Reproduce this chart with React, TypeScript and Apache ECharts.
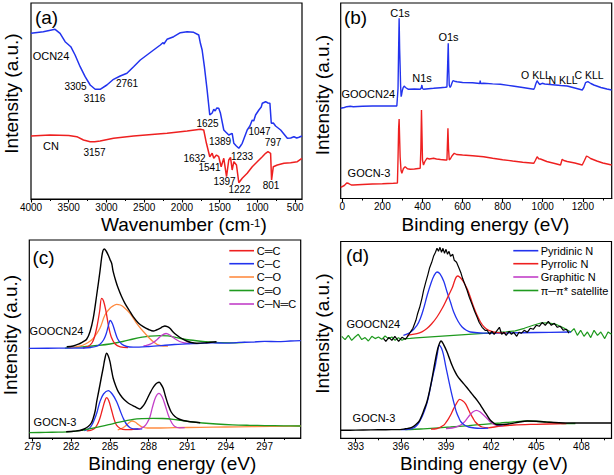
import React, { useEffect, useRef } from "react";
import * as echarts from "echarts";

type P = [number, number][];

// ---------- (a) FTIR ----------
const ftirOCN24: P = [[4000,165.7],[3837,167.3],[3681,169.7],[3615,165.7],[3548,157.3],[3473,152.3],[3416,144],[3349,132.3],[3283,122.3],[3216,114],[3150,109.7],[3084,109.7],[2995,114],[2907,119.7],[2818,123],[2729,125.7],[2641,132.3],[2552,139],[2464,144],[2376,149],[2287,154],[2250,156.5],[2240,155],[2198,159.7],[2110,162.3],[2021,166.3],[1932,167.3],[1845,166.7],[1778,164],[1756,155.7],[1733,149],[1703,132.3],[1667,109],[1632,84],[1600,86],[1579,89.7],[1560,88],[1540,91],[1513,90.7],[1490,85.7],[1446,69],[1420,67],[1380,64],[1335,65.7],[1313,55.7],[1280,53],[1247,50.7],[1225,53],[1202,55.7],[1136,69],[1100,73],[1069,79],[1050,78],[1025,84],[981,89],[950,92],[936,95.7],[892,97.3],[860,96],[835,95.7],[817,75.7],[790,76],[760,73],[693,69],[650,65],[604,60.7],[560,61],[517,62.3],[480,61],[450,61.7],[411,63]];
const ftirCN: P = [[4000,63],[3748,64],[3500,63.5],[3393,62.3],[3305,59],[3216,57.3],[3157,57.3],[3084,58],[2907,60.7],[2641,63],[2400,64.5],[2198,65.7],[1932,68],[1756,69.7],[1712,69],[1676,55.7],[1632,42.3],[1600,45.7],[1579,40.7],[1543,44],[1513,42.3],[1481,32.3],[1446,40.7],[1410,22.3],[1380,39],[1357,41.7],[1335,29],[1313,37.3],[1278,34],[1247,16.3],[1202,20.7],[1136,25.7],[1069,32.3],[1003,37.3],[936,42.3],[892,45.7],[861,47.3],[826,45.7],[813,19],[790,32.3],[737,34],[649,35.7],[561,36.3],[472,37.3],[411,40.7]];

// ---------- (b) XPS survey ----------
const surveyGOOCN24: P = [[-8,90.2],[10,91],[22,91.8],[40,92.3],[55,91.8],[100,92.3],[150,92.5],[205,92.5],[250,92.5],[272,92.5],[278,110],[281,150],[283.5,180.2],[286,150],[288.5,131.8],[291,112],[293.5,101.8],[296,104],[300,108.5],[304,111],[308.5,112.5],[315,111],[330,109.2],[360,109.5],[388.5,109.2],[394,110.5],[397,113.5],[400,110],[405,109.2],[430,109.8],[455,110.2],[490,110.8],[513.5,111.2],[522,111.5],[525,130],[528.5,155.2],[531,130],[533.5,113.5],[538,111],[542,112.5],[547,115.5],[552,117.8],[560,117.3],[572,116.8],[600,116],[650,115.8],[686,115],[688,118],[690,115],[705,115.2],[750,114.6],[788.5,114.2],[850,112.5],[900,111],[955,109.2],[960,111],[963.5,113.5],[968,116],[972,117.8],[977,116],[985,114],[997,115.2],[1010,114.5],[1050,113.8],[1090,113],[1122,112.5],[1160,110.5],[1197,108.5],[1205,111],[1213.5,115.8],[1225,116.8],[1240,115],[1255,113.5],[1290,111],[1320,109.5],[1344,108.5]];
const surveyGOCN3: P = [[-8,11.2],[10,13],[22,15.5],[30,15.2],[45,13.5],[55,13.5],[100,14],[150,14.5],[200,14.8],[255,15.2],[275,15.5],[278,40],[281,70],[283.5,79.5],[286,60],[288.5,41.8],[293,28],[297,25.2],[305,30],[313.5,31.8],[325,29.7],[338.5,29.2],[360,29.5],[388.5,30.2],[392,50],[395,88.5],[398,60],[400,38.5],[405,33.5],[412,37],[422,40.2],[435,39.5],[455,40.2],[470,39.5],[490,39],[513.5,38.5],[522,38.5],[524.5,55],[527,70.2],[530,50],[533.5,38.5],[540,40],[547,42.5],[558.5,45.2],[570,44],[600,43.5],[650,42.8],[705,41.8],[750,40.2],[800,38.8],[850,37.5],[900,36.3],[955,35.2],[963,38],[972,41.8],[980,39.8],[988.5,39.5],[1020,37],[1060,35],[1088.5,33.5],[1093,36.5],[1097,39.2],[1105,38],[1122,37],[1160,35.5],[1197,33.5],[1208,38],[1218.5,42.5],[1228,41.5],[1238.5,40],[1270,37.5],[1300,35.5],[1344,33.5]];

// ---------- (c) C1s, GOOCN24 (upper) ----------
const c1sTopEnvelope: P = [[281.64,91.3],[282.15,92],[282.67,94.5],[282.93,96.3],[283.2,99],[283.45,106.3],[283.7,119.7],[283.97,143],[284.22,166.3],[284.35,180],[284.45,187],[284.55,189],[284.7,187],[284.86,183],[285.0,178.5],[285.13,174.7],[285.25,166.3],[285.45,157],[285.64,149.7],[285.9,141.5],[286.16,134.7],[286.5,127.5],[286.8,121.3],[287.2,115],[287.58,111.3],[288.0,108.5],[288.36,107],[288.6,108],[288.88,109.7],[289.1,111.3],[289.26,112],[289.45,111.3],[289.65,109.7],[289.9,106],[290.17,103],[290.5,100],[290.95,97],[291.3,95.5],[291.72,94.7],[292.5,95.3],[293.27,96.3]];
const c1sTopCdC: P = [[282.9,90],[283.3,91.5],[283.6,95],[283.8,101],[284.0,112],[284.2,127],[284.35,139.7],[284.5,137],[284.7,126],[284.9,111],[285.1,101],[285.4,94],[285.8,91.2],[286.4,90.3]];
const c1sTopCC: P = [[278.74,89.7],[281,89.8],[283,90],[283.5,90.5],[283.9,91.5],[284.2,93.5],[284.5,98],[284.7,104],[284.85,111],[285.02,117.5],[285.2,114],[285.4,106],[285.6,99],[285.9,94],[286.3,91.5],[286.8,90.8],[288,91.5],[290,93.5],[292,94.7],[293,95.2],[294,94.8],[295,95.6],[296,95.9],[297,96.6],[298,96.4],[299,97],[299.8,97.3]];
const c1sTopCO: P = [[281.8,90],[282.15,90.6],[282.6,91.8],[282.93,93],[283.3,95.5],[283.7,99.7],[284.22,109.7],[284.61,123],[285.0,129.7],[285.3,132.5],[285.52,133.7],[285.8,133],[286.03,131.3],[286.55,124.7],[287.07,114.7],[287.71,104.7],[288.36,96.3],[288.88,92.5],[289.5,91.8]];
const c1sTopCdO: P = [[281.5,89.8],[282.41,90.8],[282.93,91.3],[284,92.5],[285.0,94],[286,96.5],[286.8,99],[287.5,100.8],[288.1,101.8],[288.88,102.3],[289.5,102.1],[289.9,101.2],[290.5,99.5],[291.2,98],[292.5,96.3],[293.5,95.3],[294.56,95.2],[295.5,95.6]];
const c1sTopCNC: P = [[287.6,92],[287.9,92.8],[288.3,95],[288.7,99],[289.0,102.5],[289.35,104.5],[289.7,102.5],[290.0,99.5],[290.4,96.5],[290.8,95],[291.2,94.5]];

// ---------- (c) C1s, GOCN-3 (lower) ----------
const c1sBotEnvelope: P = [[281.6,6.3],[282.2,6.8],[282.67,7.5],[283.0,9],[283.31,11.5],[283.55,15],[283.7,19.7],[283.85,27],[283.97,36.3],[284.1,45],[284.22,53],[284.35,62],[284.48,70.5],[284.6,79],[284.74,84.7],[284.87,82],[285.0,76.3],[285.12,68],[285.25,59.7],[285.45,52],[285.64,46.3],[285.95,40.5],[286.29,36.3],[286.6,33.5],[286.94,31.3],[287.15,29.8],[287.32,29],[287.5,31],[287.71,34.7],[287.9,39.5],[288.1,44.7],[288.3,49.5],[288.49,53],[288.65,55],[288.82,55.7],[288.97,53.5],[289.13,49.7],[289.3,42],[289.52,33],[289.75,26],[290.04,21.5],[290.35,19],[290.68,17.5],[291.0,16.8],[291.46,16],[292,15.2]];
const c1sBotCdC: P = [[283.2,7.2],[283.5,7.7],[283.8,9.5],[284.0,13],[284.2,19],[284.4,28],[284.6,37],[284.74,40.3],[284.9,37.5],[285.1,29],[285.3,19.5],[285.5,13],[285.8,9.5],[286.2,8.3],[286.8,8.6],[287.3,9]];
const c1sBotCC: P = [[283.0,7.3],[283.31,9],[283.55,12],[283.83,19.7],[284.0,26],[284.22,36.3],[284.5,44],[284.87,47.3],[285.2,43.5],[285.52,36.3],[285.8,27],[286.03,19.7],[286.3,13.5],[286.6,10],[287.0,9],[287.5,9.2]];
const c1sBotCO: P = [[285.6,8.2],[285.9,9.5],[286.2,12],[286.45,15],[286.7,17],[286.95,16],[287.2,13.5],[287.5,11],[287.9,10],[288.5,10],[290,10.3],[292,10.7],[294,11],[296,11.4],[299.8,12]];
const c1sBotCdO: P = [[278.74,5.3],[280,5.6],[281,5.9],[282,6.3],[282.93,8],[283.6,9.6],[284.22,11.3],[284.9,13.3],[285.52,15.3],[286.2,17.2],[286.8,18.7],[287.5,19.4],[288.36,19.7],[289.1,19.5],[289.9,18.7],[290.5,17.6],[291.2,16.3],[292.2,15],[293.27,14],[294.5,13.2],[295.86,12.7],[297,12.4],[298.5,12.2],[299.8,12]];
const c1sBotCNC: P = [[287.2,9.2],[287.45,10],[287.7,12],[287.9,15.5],[288.1,21],[288.3,31],[288.55,41],[288.8,44.7],[289.05,41],[289.3,32],[289.55,22],[289.8,15],[290.04,11.5],[290.4,10.2],[290.8,10.3]];

// ---------- (d) N1s, GOOCN24 (upper) ----------
const n1sTopEnvelope: P = [[394.84,100],[395.0,97],[395.2,101],[395.4,98],[395.6,102],[395.85,97],[396.07,101],[396.3,99],[396.5,103],[396.62,106],[396.8,110],[397.0,118],[397.1,124],[397.25,131],[397.4,140],[397.51,148],[397.65,156],[397.8,164],[397.9,170],[398.05,176],[398.17,182],[398.3,186],[398.4,190],[398.5,187],[398.6,191],[398.7,186],[398.8,190],[398.9,185],[399.0,189],[399.1,184],[399.2,187],[399.3,182],[399.45,184],[399.55,178],[399.7,176],[399.84,171],[400.0,165],[400.1,160],[400.25,154],[400.4,148],[400.55,141],[400.73,134],[400.9,127],[401.07,121],[401.2,116],[401.4,111],[401.6,108],[401.73,108],[401.9,104],[402.05,107],[402.2,104],[402.4,108],[402.55,111],[402.7,104],[402.85,106],[403.0,103],[403.2,107],[403.35,104],[403.5,106],[403.7,102],[403.85,106],[404.0,105],[404.2,108],[404.4,106],[404.6,110],[404.8,109],[405.0,113],[405.2,112],[405.4,116],[405.6,113],[405.8,117],[406.0,113],[406.2,115],[406.4,111],[406.6,112],[406.8,108],[407.0,109],[407.17,105]];
const n1sTopPyridinic: P = [[396.17,103],[396.62,105.7],[397.07,113],[397.3,120],[397.51,129.7],[397.75,143],[398.0,155],[398.2,162.5],[398.4,166.3],[398.6,164.5],[398.85,157],[399.07,146.3],[399.3,136],[399.51,126.3],[399.8,117],[400.07,111.3],[400.35,108],[400.62,106.3],[401.5,105.2],[403,105.3],[405,105.8],[407.3,106.3]];
const n1sTopPyrrolic: P = [[396.4,103],[397.07,104.7],[397.4,106.5],[397.73,109.7],[398.05,114.5],[398.4,121.3],[398.75,130],[399.07,139.7],[399.4,150],[399.77,162.3],[400.1,158],[400.4,149.7],[400.62,141],[400.84,131.3],[401.05,123.5],[401.29,116.3],[401.55,111],[401.84,108],[402.4,105.7],[403,105.5]];
const n1sTopSatellite: P = [[392.07,102],[392.29,98.7],[392.51,103],[392.73,98],[392.95,101.3],[393.17,104],[393.4,98.7],[393.62,100.7],[393.84,97.3],[394.07,102],[394.29,99.7],[394.51,101.3],[394.73,99],[394.95,102.3],[395.17,99.7],[395.4,101.3],[395.62,98],[395.84,100.7],[396.07,98],[396.29,99.7],[396.62,100],[397,100.5],[398,101.5],[399,102.5],[400,103.5],[401,104.5],[402,105.5],[403,106.5],[403.6,107.5],[404.2,110],[404.8,113],[405.3,115.3],[405.8,115.5],[406.3,114],[406.8,110.5],[407.29,106.3],[407.51,109.7],[407.73,103],[407.95,108],[408.17,102],[408.4,106.3],[408.62,100.7],[408.84,108],[409.07,103],[409.29,106.3],[409.55,99.7],[409.77,106.3],[410,104]];

// ---------- (d) N1s, GOCN-3 (lower) ----------
const n1sBotEnvelope: P = [[392,8],[393,8.2],[394,8.4],[395,8.6],[395.95,8.7],[396.3,9.5],[396.62,10.3],[396.85,12],[397.07,14.7],[397.25,18],[397.4,23],[397.55,29],[397.73,36.3],[397.9,47],[398.07,59.7],[398.25,75],[398.4,86.3],[398.52,93],[398.67,97.3],[398.85,93.5],[399.07,86.3],[399.25,79],[399.4,73],[399.55,68],[399.73,63],[399.95,58.5],[400.17,54.7],[400.4,50.5],[400.62,46.3],[400.85,42],[401.07,38],[401.3,33],[401.51,28],[401.73,23],[401.95,18],[402.2,15],[402.4,13.5],[402.8,13.8],[403.3,14.7],[403.8,16],[404.4,17.3],[405,17],[405.7,16.2],[406.5,15.5],[407.5,15.3],[408.5,15.3],[410,15.3]];
const n1sBotPyridinic: P = [[396,8.6],[396.51,8.9],[396.84,10.3],[397.1,13.5],[397.29,18],[397.45,23],[397.62,29.7],[397.8,39],[397.95,49.7],[398.12,62],[398.29,73],[398.42,84],[398.55,93],[398.7,90],[398.84,83],[398.97,73],[399.11,63],[399.25,53],[399.4,43],[399.55,34],[399.69,26.3],[399.85,20.5],[400,16.3],[400.25,13],[400.51,11.3],[400.9,10.3],[401.29,10],[401.8,10.2]];
const n1sBotPyrrolic: P = [[398,9.2],[398.4,9.7],[398.84,13],[399.0,16],[399.17,19.7],[399.35,24.5],[399.51,29.7],[399.7,35],[399.91,39],[400.1,37.5],[400.29,34.7],[400.45,30],[400.62,24.7],[400.8,20],[400.95,16.3],[401.15,13.5],[401.4,11.3],[401.8,10.5],[402.5,12],[403.5,13.3],[405,14],[407,14.7]];
const n1sBotGraphitic: P = [[399.0,9.7],[399.4,10.3],[399.7,11.5],[399.95,13],[400.2,16],[400.4,19.7],[400.6,23.5],[400.8,26.5],[401.02,28],[401.25,26.5],[401.51,23],[401.75,19.5],[401.95,16.3],[402.2,14],[402.4,13],[402.8,12.8]];
const n1sBotSatellite: P = [[396.3,8.6],[396.62,8.7],[397.5,9.5],[398.5,10.5],[399.29,11.3],[400.5,12.7],[401.51,14],[402.62,15.3],[403.5,16.5],[404.4,17.3],[405.3,16.8],[406.2,15.5],[407.07,14.7],[407.6,14.8]];

// ---------- tick labels ----------
const ftirTicks = [4000, 3500, 3000, 2500, 2000, 1500, 1000, 500];
const ftirMinor = [3750, 3250, 2750, 2250, 1750, 1250, 750];
const surveyTicks = [0, 200, 400, 600, 800, 1000, 1200];
const surveyMinor = [100, 300, 500, 700, 900, 1100, 1300];
const c1sTicks = [279, 282, 285, 288, 291, 294, 297];
const c1sMinor = [280.5, 283.5, 286.5, 289.5, 292.5, 295.5, 298.5];
const n1sTicks = [393, 396, 399, 402, 405, 408];
const n1sMinor = [394.5, 397.5, 400.5, 403.5, 406.5, 409.5];

const c1sLegend = ["C═C", "C─C", "C─O", "C═O", "C─N═C"];
const n1sLegend = ["Pyridinic N", "Pyrrolic N", "Graphitic N", "π─π* satellite"];

const FONT = "'Liberation Sans', Arial, 'DejaVu Sans', sans-serif";
const BLUE = "#2233ee";
const RED = "#ee2020";
const ORANGE = "#ff8c42";
const GREEN = "#1f9a1f";
const PURPLE = "#c23fc8";
const BLACK = "#000000";

const grids = [
  { left: 31, top: 3, width: 271, height: 196 },
  { left: 340.7, top: 3, width: 271, height: 195.5 },
  { left: 29.3, top: 240, width: 271.4, height: 198 },
  { left: 340.7, top: 241.5, width: 270.8, height: 196.8 },
];
const ranges = [
  { min: 410, max: 4000, inverse: true, ticks: ftirTicks, minor: ftirMinor, ymax: 196 },
  { min: -8, max: 1344, inverse: false, ticks: surveyTicks, minor: surveyMinor, ymax: 195.5 },
  { min: 278.74, max: 299.8, inverse: false, ticks: c1sTicks, minor: c1sMinor, ymax: 198 },
  { min: 392, max: 410, inverse: false, ticks: n1sTicks, minor: n1sMinor, ymax: 196.8 },
];

function ln(data: P, color: string, g: number, width = 1.3, smooth: number | boolean = false) {
  return {
    type: "line", data, xAxisIndex: g, yAxisIndex: g, symbol: "none", showSymbol: false,
    smooth, lineStyle: { color, width }, silent: true,
  };
}

function txt(text: string, x: number, y: number, size = 11, align = "center", extra: any = {}) {
  const { style: extraStyle, ...rest } = extra;
  return {
    type: "text", x, y, silent: true, z: 100, ...rest,
    style: { text, fill: "#000", fontSize: size, fontFamily: FONT, align, verticalAlign: "middle", ...(extraStyle || {}) },
  };
}

function legendItems(names: string[], colors: string[], x1: number, x2: number, tx: number, ys: number[]) {
  const out: any[] = [];
  names.forEach((n, i) => {
    out.push({ type: "line", silent: true, z: 100, shape: { x1, y1: ys[i], x2, y2: ys[i] }, style: { stroke: colors[i], lineWidth: 1.6 } });
    out.push(txt(n, tx, ys[i], 11, "left", { style: { lineHeight: 12 } }));
  });
  return out;
}

export default function App() {
  const ref = useRef<HTMLDivElement>(null);
  useEffect(() => {
    if (!ref.current) return;
    const chart = echarts.init(ref.current, undefined, { renderer: "svg" });

    const gridOpts: any[] = [];
    const xAxes: any[] = [];
    const yAxes: any[] = [];
    grids.forEach((g) => gridOpts.push({ ...g, show: true, borderColor: "#000", borderWidth: 1.2, backgroundColor: "transparent", containLabel: false }));
    grids.forEach((g) => gridOpts.push({ ...g, show: false, containLabel: false }));
    ranges.forEach((r, i) => {
      xAxes.push({
        type: "value", gridIndex: i, min: r.min, max: r.max, inverse: r.inverse, position: "bottom",
        axisLine: { show: true, onZero: false, lineStyle: { color: "#000", width: 1.2 } },
        axisTick: { show: true, length: 3.5, customValues: r.ticks, lineStyle: { color: "#000", width: 1.1 } },
        axisLabel: {
          show: true, customValues: r.ticks, margin: 3, fontSize: 10, lineHeight: 10, color: "#000", fontFamily: FONT,
          formatter: (v: number) => String(v),
        },
        splitLine: { show: false },
      });
      yAxes.push({ type: "value", gridIndex: i, min: 0, max: r.ymax, show: false });
    });
    ranges.forEach((r, i) => {
      xAxes.push({
        type: "value", gridIndex: i + 4, min: r.min, max: r.max, inverse: r.inverse, position: "bottom",
        axisLine: { show: false },
        axisTick: { show: true, length: 2, customValues: r.minor, lineStyle: { color: "#000", width: 1 } },
        axisLabel: { show: false },
        splitLine: { show: false },
      });
      yAxes.push({ type: "value", gridIndex: i + 4, min: 0, max: r.ymax, show: false });
    });

    const sm = 0.35;
    const series: any[] = [
      ln(ftirOCN24, BLUE, 0, 1.5),
      ln(ftirCN, RED, 0, 1.5),
      ln(surveyGOOCN24, BLUE, 1, 1.4),
      ln(surveyGOCN3, RED, 1, 1.4),
      // (c) upper
      ln(c1sTopCdO, GREEN, 2, 1.3, sm),
      ln(c1sTopCO, ORANGE, 2, 1.3, sm),
      ln(c1sTopCNC, PURPLE, 2, 1.3, sm),
      ln(c1sTopCdC, RED, 2, 1.3, sm),
      ln(c1sTopCC, BLUE, 2, 1.3, sm),
      ln(c1sTopEnvelope, BLACK, 2, 1.4, sm),
      // (c) lower
      ln(c1sBotCO, ORANGE, 2, 1.3, sm),
      ln(c1sBotCdC, RED, 2, 1.3, sm),
      ln(c1sBotCC, BLUE, 2, 1.3, sm),
      ln(c1sBotCNC, PURPLE, 2, 1.3, sm),
      ln(c1sBotCdO, GREEN, 2, 1.3, sm),
      ln(c1sBotEnvelope, BLACK, 2, 1.4, sm),
      // (d) upper
      ln(n1sTopSatellite, GREEN, 3, 1.2, false),
      ln(n1sTopPyridinic, BLUE, 3, 1.3, sm),
      ln(n1sTopPyrrolic, RED, 3, 1.3, sm),
      ln(n1sTopEnvelope, BLACK, 3, 1.2, false),
      // (d) lower
      ln(n1sBotSatellite, GREEN, 3, 1.3, sm),
      ln(n1sBotPyrrolic, RED, 3, 1.3, sm),
      ln(n1sBotGraphitic, PURPLE, 3, 1.3, sm),
      ln(n1sBotPyridinic, BLUE, 3, 1.3, sm),
      ln(n1sBotEnvelope, BLACK, 3, 1.4, sm),
    ];

    const rot = { rotation: Math.PI / 2, style: { lineHeight: 16 } };
    const xt = { style: { lineHeight: 15 } };
    const graphic: any[] = [
      // panel letters
      txt("(a)", 46.5, 17, 19), txt("(b)", 355.5, 17.5, 19), txt("(c)", 43.5, 257, 19), txt("(d)", 357.5, 255.5, 19),
      // y titles
      txt("Intensity (a.u.)", 11, 93.5, 19, "center", rot),
      txt("Intensity (a.u.)", 322.5, 95, 19, "center", rot),
      txt("Intensity (a.u.)", 10.5, 335, 19, "center", rot),
      txt("Intensity (a.u.)", 322.5, 333.5, 19, "center", rot),
      // x titles
      {
        type: "text", x: 101, y: 224, silent: true, z: 100,
        style: {
          text: "Wavenumber (cm{sup|-1})", fill: "#000", fontSize: 19, lineHeight: 15, fontFamily: FONT, align: "left", verticalAlign: "middle",
          rich: { sup: { fontSize: 11.5, lineHeight: 15, fontFamily: FONT, fill: "#000", verticalAlign: "top", padding: [0, 0, 6, 0] } },
        },
      },
      txt("Binding energy (eV)", 401.5, 224, 19, "left", xt),
      txt("Binding energy (eV)", 88.3, 463, 19, "left", xt),
      txt("Binding energy (eV)", 400, 463, 19, "left", xt),
      // (a) annotations
      txt("OCN24", 51, 55.5, 11), txt("CN", 51, 146, 11),
      txt("3305", 75.5, 86, 10), txt("3116", 94.5, 98, 10), txt("2761", 127, 83, 10),
      txt("1625", 207.5, 123, 10), txt("1389", 220, 141, 10), txt("1047", 259.5, 131.5, 10),
      txt("797", 273, 142, 10), txt("1233", 242, 156, 10),
      txt("3157", 94.5, 152.5, 10), txt("1632", 194.5, 158, 10), txt("1541", 209.5, 167, 10),
      txt("1397", 224.5, 181, 10), txt("1222", 239.5, 189, 10), txt("801", 271, 185, 10),
      // (b) annotations
      txt("C1s", 400, 12.5, 11), txt("O1s", 448.5, 37, 11), txt("N1s", 422, 78, 11),
      txt("GOOCN24", 368.3, 93.5, 11), txt("GOCN-3", 369, 173, 11),
      txt("O KLL", 536, 75, 10.5), txt("N KLL", 563, 80, 10.5), txt("C KLL", 589, 75, 10.5),
      // (c) / (d) sample names
      txt("GOOCN24", 56.5, 330.5, 11), txt("GOCN-3", 55, 422, 11),
      txt("GOOCN24", 373.3, 323.5, 11), txt("GOCN-3", 374, 418, 11),
      ...legendItems(c1sLegend, [RED, BLUE, ORANGE, GREEN, PURPLE], 229.3, 254, 256.7, [250.7, 263.7, 277, 290.5, 304]),
      ...legendItems(n1sLegend, [BLUE, RED, PURPLE, GREEN], 513.3, 538.3, 540.7, [250.7, 263.7, 277, 290.5]),
    ];

    chart.setOption({
      animation: false,
      backgroundColor: "#ffffff",
      grid: gridOpts,
      xAxis: xAxes,
      yAxis: yAxes,
      series,
      graphic,
    });
    return () => chart.dispose();
  }, []);
  return <div ref={ref} style={{ position: "fixed", left: 0, top: 0, width: 614, height: 475, background: "#fff" }} />;
}
